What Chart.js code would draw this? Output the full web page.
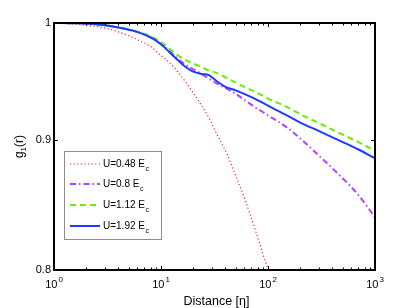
<!DOCTYPE html>
<html><head><meta charset="utf-8">
<script src="https://cdn.jsdelivr.net/npm/chart.js@4/dist/chart.umd.min.js"></script>
<style>html,body{margin:0;padding:0;background:#fff}#wrap{width:415px;height:308px}</style>
</head><body><div id="wrap"><canvas id="c" width="415" height="308"></canvas></div>
<script>
const distances = [1, 1.5, 2, 3, 4, 5, 6, 8, 10, 12, 14, 17, 20, 24, 28, 33, 40, 50, 60, 75, 100, 150, 200, 300, 500, 700, 1000];
const g1_U048 = [1.0, 0.9992, 0.998, 0.9955, 0.992, 0.9885, 0.985, 0.979, 0.971, 0.965, 0.958, 0.948, 0.939, 0.928, 0.918, 0.905, 0.891, 0.871, 0.854, 0.831, 0.800, null, null, null, null, null, null];
const g1_U08 = [1.0, 0.9998, 0.9995, 0.998, 0.996, 0.994, 0.992, 0.987, 0.981, 0.975, 0.969, 0.963, 0.959, 0.955, 0.951, 0.947, 0.943, 0.938, 0.933, 0.927, 0.920, 0.910, 0.901, 0.887, 0.869, 0.856, 0.839];
const g1_U112 = [1.0, 0.9998, 0.9996, 0.998, 0.996, 0.994, 0.992, 0.988, 0.983, 0.977, 0.972, 0.967, 0.964, 0.961, 0.958, 0.956, 0.952, 0.9475, 0.944, 0.940, 0.934, 0.927, 0.921, 0.9135, 0.904, 0.898, 0.891];
const g1_U192 = [1.0, 0.9998, 0.9995, 0.998, 0.996, 0.994, 0.992, 0.987, 0.981, 0.974, 0.968, 0.961, 0.957, 0.955, 0.954, 0.949, 0.944, 0.941, 0.938, 0.934, 0.928, 0.920, 0.914, 0.907, 0.898, 0.892, 0.885];
const seriesNames = ['U=0.48 E', 'U=0.8 E', 'U=1.12 E', 'U=1.92 E'];
const seriesSub = ['c', 'c', 'c', 'c'];
const xTickValues = [1, 10, 100, 1000];
const xTickExponents = ['0', '1', '2', '3'];
const xMinorTicks = [2,3,4,5,6,7,8,9,20,30,40,50,60,70,80,90,200,300,400,500,600,700,800,900];
const yTickValues = [0.8, 0.9, 1];
const yTickLabels = ['0.8', '0.9', '1'];

const FONT = '"Liberation Sans", Arial, Helvetica, sans-serif';
const toPts = (ys) => distances.map((d, i) => ({x: d, y: ys[i]})).filter(p => p.y !== null);

const styles = [
  {color: '#ff2020', width: 1.2, dash: [1.2, 2.4], order: 4},
  {color: '#b840ff', width: 2, dash: [6, 3, 1.5, 3], order: 3},
  {color: '#66ee00', width: 2, dash: [6, 4], order: 2},
  {color: '#1e3cff', width: 2, dash: [], order: 1}
];
const seriesData = [g1_U048, g1_U08, g1_U112, g1_U192];

const datasets = seriesData.map((ys, i) => ({
  label: seriesNames[i] + seriesSub[i],
  data: toPts(ys),
  borderColor: styles[i].color,
  borderWidth: styles[i].width,
  borderDash: styles[i].dash,
  pointRadius: 0,
  cubicInterpolationMode: 'monotone',
  fill: false,
  order: styles[i].order
}));

const framePlugin = {
  id: 'frame',
  afterDraw(chart) {
    const ctx = chart.ctx, a = chart.chartArea;
    const xs = chart.scales.x, ys = chart.scales.y;
    ctx.save();
    ctx.strokeStyle = '#000';
    ctx.lineWidth = 1;
    ctx.beginPath();
    xTickValues.forEach(v => {
      const px = Math.round(xs.getPixelForValue(v)) + 0.5;
      ctx.moveTo(px, a.bottom); ctx.lineTo(px, a.bottom - 4);
      ctx.moveTo(px, a.top); ctx.lineTo(px, a.top + 4);
    });
    xMinorTicks.forEach(v => {
      const px = Math.round(xs.getPixelForValue(v)) + 0.5;
      ctx.moveTo(px, a.bottom); ctx.lineTo(px, a.bottom - 2.5);
      ctx.moveTo(px, a.top); ctx.lineTo(px, a.top + 2.5);
    });
    yTickValues.forEach(v => {
      const py = Math.round(ys.getPixelForValue(v)) + 0.5;
      ctx.moveTo(a.left, py); ctx.lineTo(a.left + 4, py);
      ctx.moveTo(a.right, py); ctx.lineTo(a.right - 4, py);
    });
    ctx.stroke();
    ctx.lineWidth = 2;
    ctx.strokeRect(a.left, a.top, a.right - a.left, a.bottom - a.top);

    ctx.fillStyle = '#000';
    ctx.textBaseline = 'alphabetic';
    xTickValues.forEach((v, i) => {
      const px = xs.getPixelForValue(v);
      ctx.font = '11px ' + FONT;
      const w1 = ctx.measureText('10').width;
      ctx.font = '8px ' + FONT;
      const w2 = ctx.measureText(xTickExponents[i]).width;
      const x0 = px - (w1 + w2 + 1) / 2;
      ctx.font = '11px ' + FONT;
      ctx.textAlign = 'left';
      ctx.fillText('10', x0, 288);
      ctx.font = '8px ' + FONT;
      ctx.fillText(xTickExponents[i], x0 + w1 + 1, 282);
    });
    ctx.font = '11px ' + FONT;
    ctx.textAlign = 'right';
    ctx.textBaseline = 'middle';
    yTickValues.forEach((v, i) => {
      const py = ys.getPixelForValue(v);
      ctx.fillText(yTickLabels[i], a.left - 3, py);
    });
    ctx.font = '12.5px ' + FONT;
    ctx.textAlign = 'center';
    ctx.textBaseline = 'alphabetic';
    ctx.fillText('Distance [\u03b7]', (a.left + a.right) / 2 + 2, 305);
    ctx.save();
    ctx.translate(23, (a.top + a.bottom) / 2);
    ctx.rotate(-Math.PI / 2);
    ctx.font = '12px ' + FONT;
    const wg = ctx.measureText('g').width, wr = ctx.measureText('(r)').width;
    ctx.font = '8px ' + FONT;
    const ws = ctx.measureText('1').width;
    let tx = -(wg + ws + wr) / 2;
    ctx.textAlign = 'left';
    ctx.textBaseline = 'alphabetic';
    ctx.font = '12px ' + FONT;
    ctx.fillText('g', tx, 0);
    ctx.font = '8px ' + FONT;
    ctx.fillText('1', tx + wg, 3);
    ctx.font = '12px ' + FONT;
    ctx.fillText('(r)', tx + wg + ws, 0);
    ctx.restore();

    const bx = 64.5, by = 151.5, bw = 97, bh = 88;
    ctx.fillStyle = '#fff';
    ctx.fillRect(bx, by, bw, bh);
    ctx.strokeStyle = '#8c8c8c';
    ctx.lineWidth = 1;
    ctx.strokeRect(bx, by, bw, bh);
    const rows = [164, 184, 205, 226];
    chart.data.datasets.forEach((ds, i) => {
      const y = rows[i];
      ctx.save();
      ctx.strokeStyle = ds.borderColor;
      ctx.lineWidth = ds.borderWidth;
      ctx.setLineDash(ds.borderDash);
      ctx.beginPath();
      ctx.moveTo(70, y); ctx.lineTo(100, y);
      ctx.stroke();
      ctx.restore();
      ctx.fillStyle = '#000';
      ctx.textAlign = 'left';
      ctx.textBaseline = 'middle';
      ctx.font = '10px ' + FONT;
      ctx.fillText(seriesNames[i], 103, y);
      const w = ctx.measureText(seriesNames[i]).width;
      ctx.font = '7px ' + FONT;
      ctx.fillText(seriesSub[i], 103 + w + 0.5, y + 5);
    });
    ctx.restore();
  }
};

new Chart(document.getElementById('c'), {
  type: 'line',
  data: {datasets},
  options: {
    responsive: false,
    animation: false,
    devicePixelRatio: 1,
    layout: {padding: {top: 23, right: 40, left: 0, bottom: 0}},
    plugins: {legend: {display: false}, tooltip: {enabled: false}},
    scales: {
      x: {
        type: 'logarithmic', min: 1, max: 1000,
        grid: {display: false}, border: {display: false},
        ticks: {display: false},
        afterFit(s) { s.height = 38; }
      },
      y: {
        type: 'logarithmic', min: 0.8, max: 1,
        grid: {display: false}, border: {display: false},
        ticks: {display: false},
        afterFit(s) { s.width = 54; }
      }
    }
  },
  plugins: [framePlugin]
});
</script>
</body></html>
